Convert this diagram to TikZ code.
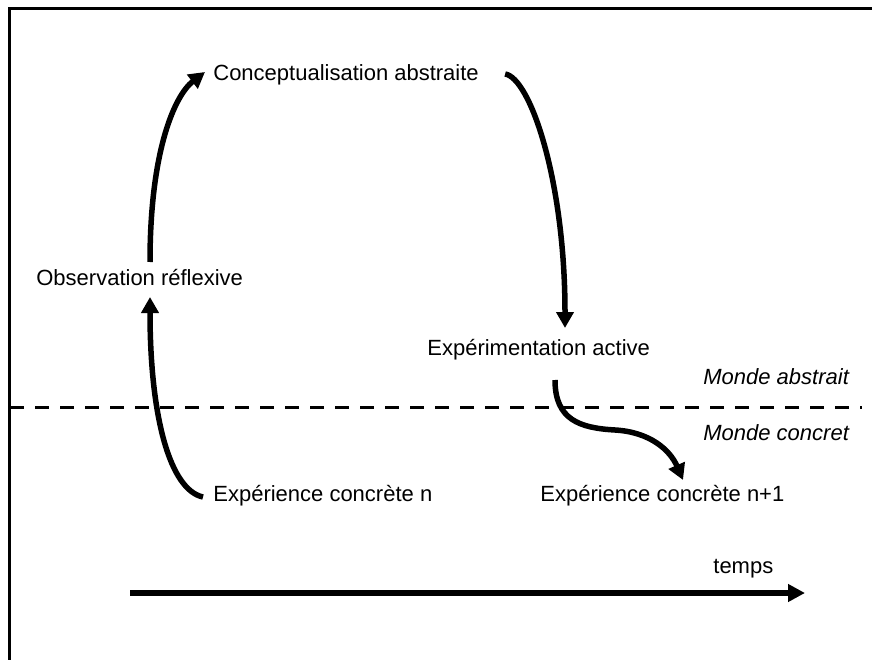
\documentclass[tikz,border=0pt]{standalone}
\usepackage{fontspec}
\setmainfont{Liberation Sans}
\usetikzlibrary{arrows.meta,calc}

\tikzset{every picture/.style={line width=0.75pt}}
\tikzset{
  lbl/.style={anchor=west,inner sep=0pt,text height=16pt,text depth=5pt,font=\fontsize{22}{26}\selectfont},
  lbli/.style={lbl,font=\fontsize{22}{26}\selectfont\itshape},
  cyc/.style={line width=5.5pt,-{Triangle[length=16pt,width=17pt]}},
}

\begin{document}
\begin{tikzpicture}[x=1pt,y=1pt,yscale=-1,xscale=1]
\useasboundingbox (0,0) rectangle (872,660);

%Frame
\draw [line width=3pt] (9,660) -- (9,9) -- (872,9) ;

% Text Node
\node [lbl] (conc) at (213,75) {Conceptualisation abstraite};
% Text Node
\node [lbl] (obs) at (36,280) {Observation réflexive};
% Text Node
\node [lbl] (exper) at (427,350) {Expérimentation active};
% Text Node
\node [lbli] (abstr) at (703,379) {Monde abstrait};
% Text Node
\node [lbli] (concr) at (703,435) {Monde concret};
% Text Node
\node [lbl] (expn) at (213,496) {Expérience concrète n};
% Text Node
\node [lbl] (expnn) at (540,496) {Expérience concrète n+1};
% Text Node
\node [lbl] (temps) at (713,568) {temps};

%Dashed Line
\coordinate (d0) at (10,407);
\coordinate (d1) at (862,407);
\draw [line width=3pt,dash pattern={on 14pt off 11pt}] (d0) -- (d1) ;

%Curve Lines
\draw [cyc] ($(expn.west)+(-10,1)$) .. controls +(-33,-7) and +(0,120) .. ($(obs.west)+(114,17)$) ;
\draw [cyc] ($(obs.west)+(114,-18)$) .. controls +(0,-112) and +(-30,23) .. ($(conc.west)+(-8,-3)$) ;
\draw [cyc] ($(conc.east)+(26,-1)$) .. controls +(25,4) and +(0,-148) .. ($(exper.west)+(138,-22)$) ;
\draw [cyc] ($(exper.west)+(128,30)$) .. controls +(0,40) and +(-35,-2) .. (615,430) .. controls +(35,2) and +(-13,-30) .. ($(expnn.west)+(143,-16)$) ;

%Time Axis
\coordinate (t0) at (130,593);
\coordinate (t1) at (805,593);
\draw [line width=5.5pt,-{Triangle[length=17pt,width=17pt]}] (t0) -- (t1) ;

\end{tikzpicture}
\end{document}
